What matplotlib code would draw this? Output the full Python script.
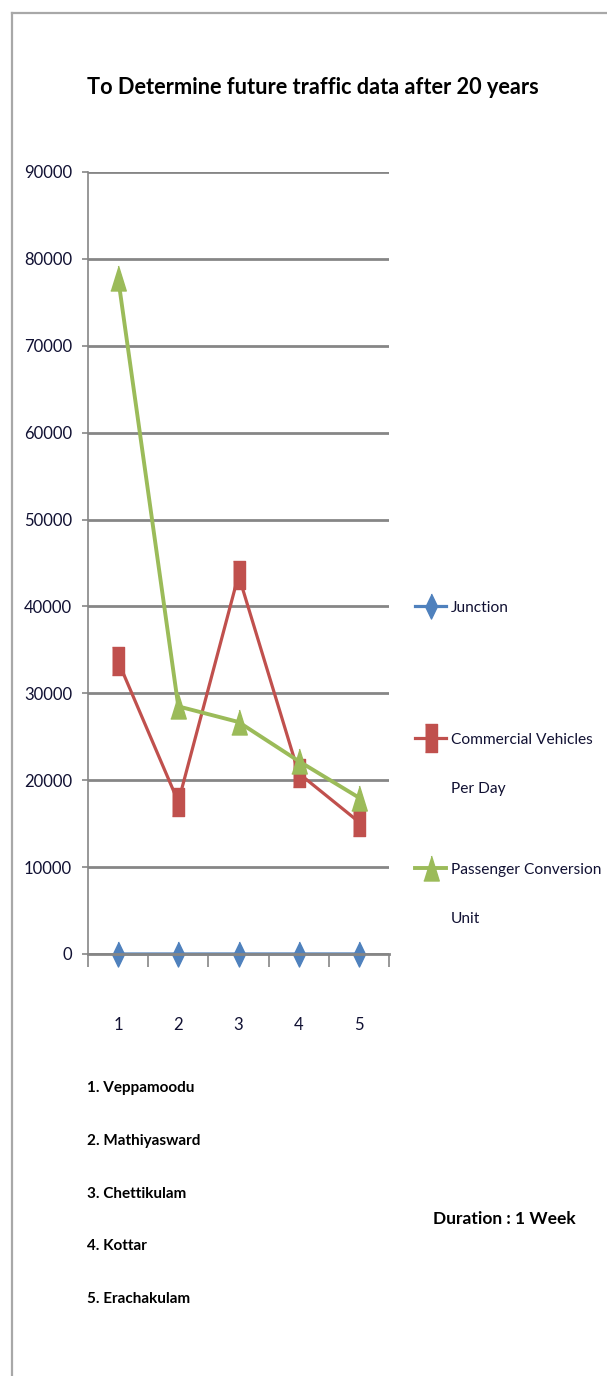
import matplotlib
matplotlib.use('Agg')
from matplotlib import pyplot as plt
from matplotlib.lines import Line2D

plt.rcParams['font.family'] = ['Lato', 'DejaVu Sans']

# data
junctions = [1, 2, 3, 4, 5]
junction_vals = [1, 2, 3, 4, 5]
commercial_vals = [33700, 17500, 43600, 20800, 15200]
pcu_vals = [77800, 28500, 26700, 22200, 18000]
places = ['Veppamoodu', 'Mathiyasward', 'Chettikulam', 'Kottar', 'Erachakulam']
yticks = [0, 10000, 20000, 30000, 40000, 50000, 60000, 70000, 80000, 90000]
series_names = ['Junction', 'Commercial Vehicles\nPer Day', 'Passenger Conversion\nUnit']

blue = '#4F81BD'
red = '#C0504D'
green = '#9BBB59'
grey = '#868686'
txt = '#111133'

# tall markers (the source picture is stretched vertically)
diamond = [(0, 1), (0.48, 0), (0, -1), (-0.48, 0)]
square = [(-0.42, -1), (0.42, -1), (0.42, 1), (-0.42, 1)]
triangle = [(0, 1), (0.62, -1), (-0.62, -1)]

fig = plt.figure(figsize=(6.07, 13.76), dpi=100)
ax = fig.add_axes([88 / 607, 422 / 1376, 301 / 607, 782 / 1376])

l1, = ax.plot(junctions, junction_vals, color=blue, lw=2.3, marker=diamond,
              markersize=18, clip_on=False)
l2, = ax.plot(junctions, commercial_vals, color=red, lw=2.3, marker=square,
              markersize=20, clip_on=False)
l3, = ax.plot(junctions, pcu_vals, color=green, lw=2.8, marker=triangle,
              markersize=18, clip_on=False)

ax.set_xlim(0.5, 5.5)
ax.set_ylim(0, 90000)
ax.set_yticks(yticks)
ax.set_yticklabels([str(v) for v in yticks], fontsize=12, color=txt)
ax.set_xticks(junctions)
ax.set_xticklabels([str(j) for j in junctions], fontsize=12, color=txt)
ax.set_xticks([0.5, 1.5, 2.5, 3.5, 4.5, 5.5], minor=True)
ax.tick_params(axis='x', which='major', length=0, pad=45)
ax.tick_params(axis='x', which='minor', length=9, color=grey, width=1.2)
ax.tick_params(axis='y', length=4.5, color=grey, width=1.2, pad=7)
ax.yaxis.grid(True, color=grey, lw=2)
ax.set_axisbelow(True)
for s in ['top', 'right']:
    ax.spines[s].set_visible(False)
ax.spines['left'].set_color(grey)
ax.spines['left'].set_linewidth(1.2)
ax.spines['bottom'].set_color(grey)
ax.spines['bottom'].set_linewidth(2)

fig.text(0.516, 1 - 87 / 1376, 'To Determine future traffic data after 20 years',
         ha='center', va='center', fontsize=15.7, fontweight='bold')

# one legend per series so each sits where it does in the reference
legend_tops = [601, 733, 863]
for h, name, top in zip([l1, l2, l3], series_names, legend_tops):
    leg = fig.legend([h], [name], loc='upper left',
                     bbox_to_anchor=(415 / 607, 1 - top / 1376),
                     frameon=False, fontsize=11.2, handlelength=2.0,
                     handletextpad=0.3, borderpad=0, borderaxespad=0)
    for col in leg._legend_handle_box.get_children():
        for hp in col.get_children():
            hp.align = 'top'
    for t in leg.get_texts():
        t.set_linespacing(4.2)
        t.set_color(txt)

for i, p in enumerate(places):
    fig.text(87 / 607, 1 - (1088 + 52.8 * i) / 1376, f'{i + 1}. {p}',
             ha='left', va='center', fontsize=11, fontweight='bold')

fig.text(433 / 607, 1 - 1219 / 1376, 'Duration : 1 Week', ha='left', va='center',
         fontsize=12.5, fontweight='bold')

# frame of the original picture
fig.add_artist(Line2D([12 / 607, 12 / 607], [0, 1 - 13 / 1376], color='#a8a8a8', lw=1.6))
fig.add_artist(Line2D([12 / 607, 1], [1 - 13 / 1376, 1 - 13 / 1376], color='#a8a8a8', lw=1.6))

fig.savefig('out.png', dpi=100)
